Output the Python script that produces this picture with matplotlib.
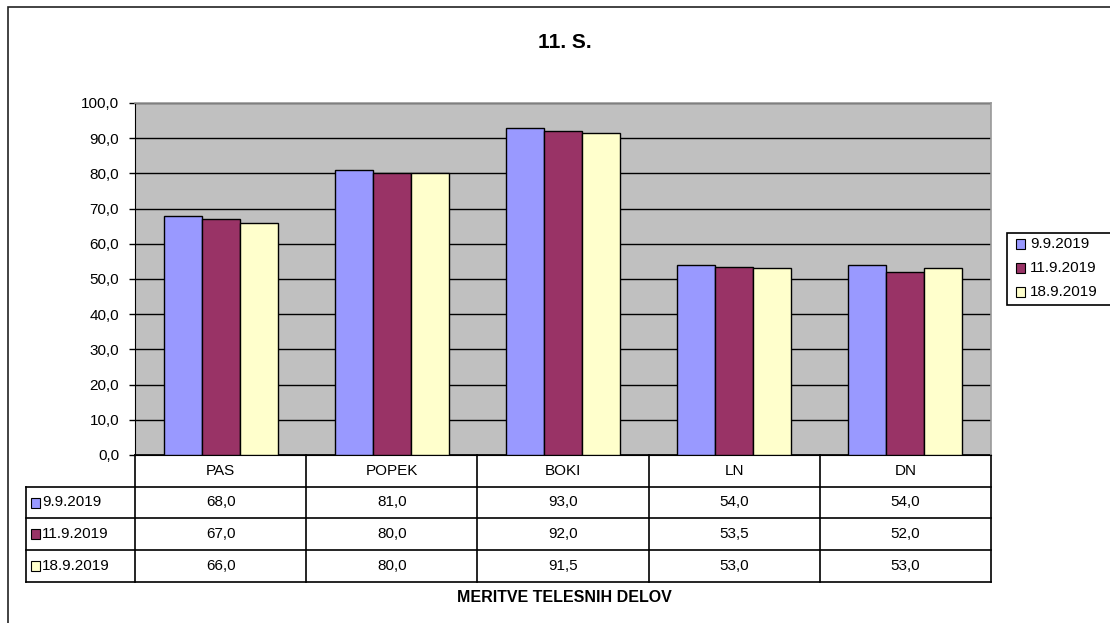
import matplotlib
matplotlib.use("Agg")
import matplotlib.pyplot as plt
from matplotlib.patches import Rectangle
from matplotlib.lines import Line2D
import matplotlib.transforms as mtransforms

plt.rcParams['font.family'] = ['Liberation Sans', 'DejaVu Sans']

title = "11. S."
xlabel = "MERITVE TELESNIH DELOV"
categories = ["PAS", "POPEK", "BOKI", "LN", "DN"]
series_names = ["9.9.2019", "11.9.2019", "18.9.2019"]
s1 = [68.0, 81.0, 93.0, 54.0, 54.0]
s2 = [67.0, 80.0, 92.0, 53.5, 52.0]
s3 = [66.0, 80.0, 91.5, 53.0, 53.0]
series = [s1, s2, s3]
colors = ["#9999FF", "#993366", "#FFFFCC"]
yticks = [0, 10, 20, 30, 40, 50, 60, 70, 80, 90, 100]

FS = 11
W, H = 1110, 623
fig = plt.figure(figsize=(W / 100, H / 100), dpi=100)
fig.patch.set_facecolor("white")

def fx(px):
    return px / W

def fy(py):
    return 1 - py / H

# outer chart border
fig.patches.append(Rectangle((fx(8), fy(700)), 1200 / W, 693 / H, transform=fig.transFigure,
                             fill=False, edgecolor="#222222", linewidth=1.2, clip_on=False))

L, R, T, B = 135, 991, 103, 455
ax = fig.add_axes([fx(L), fy(B), (R - L) / W, (B - T) / H])
ax.set_facecolor("#C0C0C0")

n = len(categories)
bw = 0.222
for i, (vals, c) in enumerate(zip(series, colors)):
    xs = [k + (i - 1) * bw for k in range(n)]
    ax.bar(xs, vals, width=bw, color=c, edgecolor="black", linewidth=1.0, zorder=3)

ax.set_xlim(-0.5, n - 0.5)
ax.set_ylim(0, 100)
ax.set_yticks(yticks)
ax.set_yticklabels([f"{v:.1f}".replace(".", ",") for v in yticks], fontsize=FS)
ax.yaxis.grid(True, color="black", linewidth=1.0, zorder=1)
ax.set_axisbelow(True)
ax.set_xticks([])
ax.tick_params(axis="y", length=4.5, width=1, color="black", pad=7)
for s in ["top", "right"]:
    ax.spines[s].set_color("#999999")
    ax.spines[s].set_linewidth(1.2)
ax.spines["left"].set_color("black")
ax.spines["bottom"].set_color("black")

# data table below the axes
trans = mtransforms.blended_transform_factory(ax.transData, ax.transAxes)
ph = B - T
def ay(px):
    return -(px - B) / ph

rows_px = [B, 487, 518, 550, 582]
unit = (R - L) / n
xl = -0.5 - (L - 26) / unit
lw = 1.2
ax.add_line(Line2D([-0.5, n - 0.5], [ay(B), ay(B)], transform=trans, color="black", lw=lw, clip_on=False))
for py in rows_px[1:]:
    ax.add_line(Line2D([xl, n - 0.5], [ay(py), ay(py)], transform=trans, color="black", lw=lw, clip_on=False))
for k in range(n + 1):
    ax.add_line(Line2D([k - 0.5, k - 0.5], [ay(B), ay(582)], transform=trans, color="black", lw=lw, clip_on=False))
ax.add_line(Line2D([xl, xl], [ay(487), ay(582)], transform=trans, color="black", lw=lw, clip_on=False))

for k, cat in enumerate(categories):
    ax.text(k, ay((B + 487) / 2), cat, transform=trans, ha="center", va="center", fontsize=FS, clip_on=False)

for i, (name, vals, c) in enumerate(zip(series_names, series, colors)):
    yc = ay((rows_px[i + 1] + rows_px[i + 2]) / 2)
    mx = xl + 5 / unit
    ax.add_patch(Rectangle((mx, yc - 5 / ph), 9 / unit, 10 / ph, transform=trans,
                           facecolor=c, edgecolor="black", lw=0.8, clip_on=False))
    ax.text(xl + 16 / unit, yc, name, transform=trans, ha="left", va="center", fontsize=FS, clip_on=False)
    for k, v in enumerate(vals):
        ax.text(k, yc, f"{v:.1f}".replace(".", ","), transform=trans, ha="center", va="center",
                fontsize=FS, clip_on=False)

# x label
fig.text(fx(564), fy(597), xlabel, ha="center", va="center", fontsize=11.5, fontweight="bold")

# title
fig.text(fx(565), fy(42), title, ha="center", va="center", fontsize=15, fontweight="bold")

# legend (box runs off the right edge as in the reference)
fig.patches.append(Rectangle((fx(1007), fy(305)), 300 / W, 72 / H, transform=fig.transFigure,
                             facecolor="white", edgecolor="black", linewidth=1.2, clip_on=False))
for i, (name, c) in enumerate(zip(series_names, colors)):
    yc = 244 + 24 * i
    fig.patches.append(Rectangle((fx(1016), fy(yc + 5)), 9 / W, 10 / H, transform=fig.transFigure,
                                 facecolor=c, edgecolor="black", linewidth=0.8))
    fig.text(fx(1030), fy(yc), name, ha="left", va="center", fontsize=FS)

fig.savefig("out.png", dpi=100)
